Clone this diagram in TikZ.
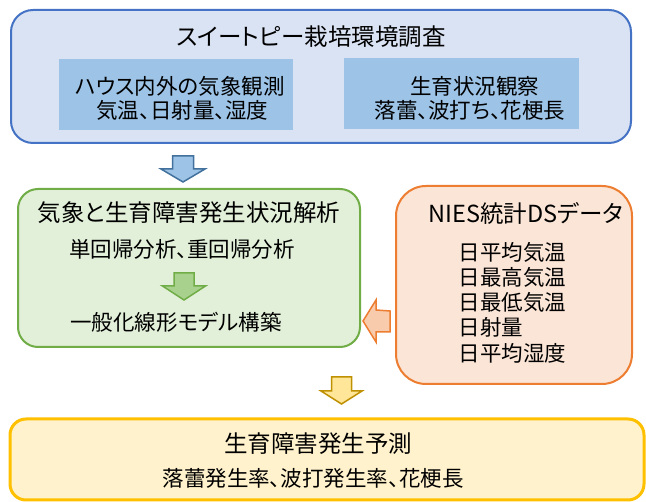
\documentclass[tikz,border=0pt]{standalone}
\usepackage{fontspec}
\setmainfont{Noto Sans CJK JP}[RawFeature=+palt]
\usetikzlibrary{positioning}

\definecolor{SurveyFill}{HTML}{DAE3F3}
\definecolor{SurveyLine}{HTML}{4472C4}
\definecolor{InnerFill}{HTML}{9DC3E6}
\definecolor{BlueArrowLine}{HTML}{41719C}
\definecolor{GreenFill}{HTML}{E2F0D9}
\definecolor{GreenLine}{HTML}{70AD47}
\definecolor{GreenArrowFill}{HTML}{A9D18E}
\definecolor{OrangeFill}{HTML}{FBE5D6}
\definecolor{OrangeLine}{HTML}{ED7D31}
\definecolor{OrangeArrowFill}{HTML}{F8CBAD}
\definecolor{YellowFill}{HTML}{FFF2CC}
\definecolor{YellowLine}{HTML}{FFC000}
\definecolor{YellowArrowFill}{HTML}{FFE699}
\definecolor{YellowArrowLine}{HTML}{BF9000}

\tikzset{
    bigbox/.style={draw, line width=2pt, inner sep=0pt},
    head text/.style={font=\fontsize{23.5}{28}\selectfont},
    body text/.style={font=\fontsize{21.5}{24}\selectfont, align=center},
    blockarrow/.style={line width=1.5pt, line join=miter},
}

\begin{document}
\begin{tikzpicture}[x=1pt, y=-1pt]
    \useasboundingbox (0,0) rectangle (646,502);

    % survey
    \node[bigbox, rounded corners=22pt, fill=SurveyFill, draw=SurveyLine,
          minimum width=620pt, minimum height=133pt] (Survey) at (321,76.5) {};
    \node[head text] (Survey Title) at (311,37) {スイートピー栽培環境調査};
    \node[fill=InnerFill, minimum width=234pt, minimum height=71pt] (Weather Box) at (176,94.5) {};
    \node[fill=InnerFill, minimum width=235pt, minimum height=71pt] (Growth Box)  at (461.5,93.5) {};
    \node[body text] (Weather Text) at (180,98) {ハウス内外の気象観測\\\ 気温、日射量、湿度};
    \node[body text] (Growth Text)  at (470,98) {\ \ 生育状況観察\\落蕾、波打ち、花梗長};

    % analysis
    \node[bigbox, rounded corners=20pt, fill=GreenFill, draw=GreenLine,
          minimum width=342pt, minimum height=158pt] (Analysis) at (189,268) {};
    \node[head text] (Analysis Title) at (189,213) {気象と生育障害発生状況解析};
    \node[body text] (Regression) at (182,249) {単回帰分析、重回帰分析};
    \node[body text] (GLM)        at (176,322) {一般化線形モデル構築};

    % NIES data
    \node[bigbox, rounded corners=30pt, fill=OrangeFill, draw=OrangeLine,
          minimum width=236pt, minimum height=198pt] (NIES) at (514,285) {};
    \node[head text] (NIES Title) at (526,213) {NIES統計DSデータ};
    \node[font=\fontsize{21.5}{25.25}\selectfont, align=left, anchor=west]
        (NIES List) at (455,302.5) {日平均気温\\日最高気温\\日最低気温\\日射量\\日平均湿度};

    % forecast
    \node[bigbox, line width=3pt, rounded corners=16pt, fill=YellowFill, draw=YellowLine,
          minimum width=634pt, minimum height=81pt] (Forecast) at (327,459.5) {};
    \node[head text] (Forecast Title) at (318,444) {生育障害発生予測};
    \node[body text] (Forecast Items) at (313,478) {落蕾発生率、波打発生率、花梗長};

    % arrows
    \coordinate (Arrow 1) at (183,156);
    \coordinate (Arrow 2) at (184,273);
    \coordinate (Arrow 3) at (390,321.5);
    \coordinate (Arrow 4) at (341.5,377);

    \draw[blockarrow, fill=InnerFill, draw=BlueArrowLine] (Arrow 1)
        ++(-10.5,0) -- ++(21,0) -- ++(0,13) -- ++(11.5,0) -- ++(-22,13)
        -- ++(-22,-13) -- ++(11.5,0) -- cycle;
    \draw[blockarrow, fill=GreenArrowFill, draw=GreenLine] (Arrow 2)
        ++(-10,0) -- ++(20,0) -- ++(0,13) -- ++(11.5,0) -- ++(-21.5,14)
        -- ++(-21.5,-14) -- ++(11.5,0) -- cycle;
    \draw[blockarrow, fill=OrangeArrowFill, draw=OrangeLine] (Arrow 3)
        ++(0,-10.5) -- ++(0,21) -- ++(-14,0) -- ++(0,10) -- ++(-13,-21)
        -- ++(13,-21) -- ++(0,10) -- cycle;
    \draw[blockarrow, fill=YellowArrowFill, draw=YellowArrowLine] (Arrow 4)
        ++(-10,0) -- ++(20,0) -- ++(0,14) -- ++(10.5,0) -- ++(-20.5,13)
        -- ++(-20.5,-13) -- ++(10.5,0) -- cycle;
\end{tikzpicture}
\end{document}
